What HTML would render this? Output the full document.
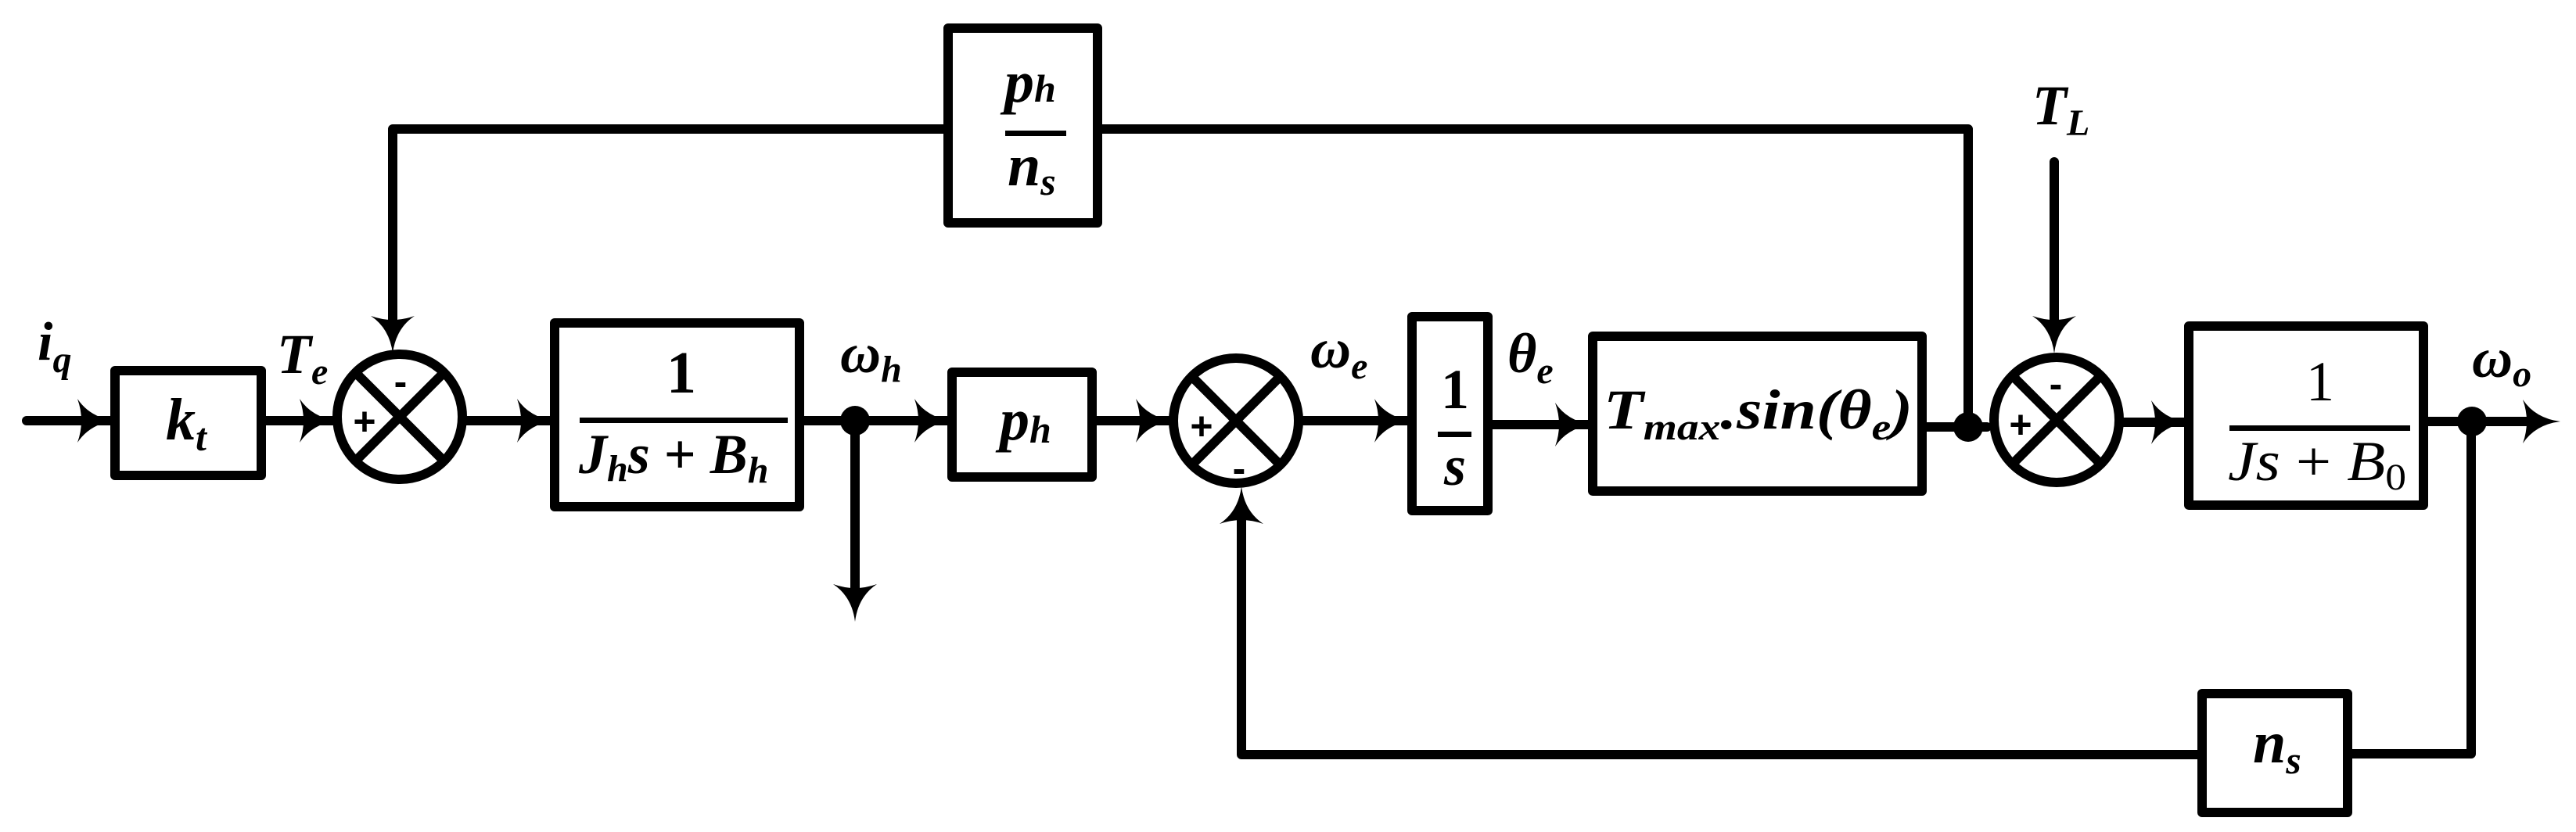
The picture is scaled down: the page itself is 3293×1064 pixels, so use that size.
<!DOCTYPE html>
<html><head><meta charset="utf-8"><style>
html,body{margin:0;padding:0;background:#fff;}
svg{display:block;}
</style></head><body>
<svg width="3293" height="1064" viewBox="0 0 3293 1064" xmlns="http://www.w3.org/2000/svg" font-family="Liberation Serif, serif">
<defs>
<path id="ar" d="M0,0 Q-32,-4 -48,-28 Q-38,0 -48,28 Q-32,4 0,0 Z" fill="#000"/>
</defs>
<g stroke="#000" stroke-width="12" fill="none" stroke-linecap="round" stroke-linejoin="round">
<line x1="34" y1="538" x2="147" y2="538"/>
<line x1="334" y1="538" x2="425" y2="538"/>
<line x1="595" y1="538" x2="709" y2="538"/>
<line x1="1022" y1="538" x2="1217" y2="538"/>
<line x1="1093" y1="538" x2="1093" y2="760"/>
<line x1="1396" y1="538" x2="1494" y2="538"/>
<line x1="1666" y1="538" x2="1805" y2="538"/>
<line x1="1902" y1="543" x2="2036" y2="543"/>
<line x1="2457" y1="546" x2="2540" y2="546"/>
<line x1="2714" y1="540" x2="2798" y2="540"/>
<line x1="3098" y1="539" x2="3240" y2="539"/>
<polyline points="502,420 502,165 1212,165"/>
<polyline points="1403,165 2516,165 2516,546"/>
<line x1="2626" y1="207" x2="2626" y2="420"/>
<polyline points="3159,539 3159,964 3001,964"/>
<polyline points="2815,965 1587,965 1587,660"/>
<rect x="147" y="474" width="187" height="134"/>
<rect x="709" y="413" width="313" height="235"/>
<rect x="1212" y="36" width="191" height="249"/>
<rect x="1217" y="476" width="179" height="134"/>
<rect x="1805" y="405" width="97" height="248"/>
<rect x="2036" y="430" width="421" height="198"/>
<rect x="2798" y="417" width="300" height="229"/>
<rect x="2815" y="887" width="186" height="152"/>
<circle cx="511" cy="533" r="80"/>
<line x1="455" y1="477" x2="567" y2="589"/><line x1="567" y1="477" x2="455" y2="589"/>
<circle cx="1580" cy="538" r="80"/>
<line x1="1524" y1="482" x2="1636" y2="594"/><line x1="1636" y1="482" x2="1524" y2="594"/>
<circle cx="2629" cy="537" r="80"/>
<line x1="2573" y1="481" x2="2685" y2="593"/><line x1="2685" y1="481" x2="2573" y2="593"/>
</g>
<g fill="#000">
<rect x="741" y="534" width="266" height="7"/>
<rect x="1285" y="167" width="78" height="7"/>
<rect x="1838" y="552" width="43" height="7"/>
<rect x="2850" y="544" width="231" height="7"/>
<circle cx="1093" cy="538" r="19"/>
<circle cx="2516" cy="546" r="19"/>
<circle cx="3160" cy="539" r="19"/>
<circle cx="1902" cy="543" r="6"/>
</g>
<use href="#ar" transform="translate(147,538)"/>
<use href="#ar" transform="translate(431,538)"/>
<use href="#ar" transform="translate(709,538)"/>
<use href="#ar" transform="translate(1217,538)"/>
<use href="#ar" transform="translate(1500,538)"/>
<use href="#ar" transform="translate(1805,538)"/>
<use href="#ar" transform="translate(2036,543)"/>
<use href="#ar" transform="translate(2798,540)"/>
<use href="#ar" transform="translate(3273,539)"/>
<use href="#ar" transform="translate(502,452) rotate(90)"/>
<use href="#ar" transform="translate(2626,452) rotate(90)"/>
<use href="#ar" transform="translate(1093,795) rotate(90)"/>
<use href="#ar" transform="translate(1587,622) rotate(-90)"/>
<g font-family="Liberation Sans, sans-serif" font-weight="bold" font-size="50" text-anchor="middle" fill="#000">
<text x="466" y="556">+</text>
<text x="512" y="505">-</text>
<text x="1536" y="562">+</text>
<text x="1584" y="616">-</text>
<text x="2583" y="560">+</text>
<text x="2628" y="508">-</text>
</g>
<g font-family="Liberation Serif, serif" font-weight="bold" font-style="italic" fill="#000">
<text x="48" y="460" font-size="70">i<tspan font-size="48" dy="16">q</tspan></text>
<text x="354" y="477" font-size="72">T<tspan font-size="48" dy="14">e</tspan></text>
<text x="1074" y="476" font-size="72">ω<tspan font-size="48" dy="12">h</tspan></text>
<text x="1675" y="470" font-size="72">ω<tspan font-size="48" dy="14">e</tspan></text>
<text x="1927" y="476" font-size="72">θ<tspan font-size="48" dy="14">e</tspan></text>
<text x="2598" y="159" font-size="72">T<tspan font-size="48" dy="14">L</tspan></text>
<text x="3160" y="482" font-size="72">ω<tspan font-size="48" dy="12">o</tspan></text>
<text x="238" y="562" font-size="76" text-anchor="middle">k<tspan font-size="50" dy="14">t</tspan></text>
<text x="871" y="502" font-size="76" text-anchor="middle" font-style="normal">1</text>
<text x="740" y="605" font-size="72">J<tspan font-size="48" dy="10">h</tspan><tspan dy="-10">s</tspan><tspan font-style="normal"> + </tspan>B<tspan font-size="48" dy="12">h</tspan></text>
<text x="1284" y="130" font-size="76">p<tspan font-size="50">h</tspan></text>
<text x="1288" y="237" font-size="76">n<tspan font-size="50" dy="12">s</tspan></text>
<text x="1278" y="562" font-size="76">p<tspan font-size="50" dy="4">h</tspan></text>
<text x="1860" y="522" font-size="72" text-anchor="middle" font-style="normal">1</text>
<text x="1860" y="620" font-size="72" text-anchor="middle">s</text>
<text x="2050" y="548" font-size="72" textLength="395" lengthAdjust="spacingAndGlyphs">T<tspan font-size="48" dy="14">max</tspan><tspan dy="-14">.sin(θ</tspan><tspan font-size="48" dy="14">e</tspan><tspan dy="-14">)</tspan></text>
<text x="2966" y="512" font-size="72" text-anchor="middle" font-style="normal" font-weight="normal">1</text>
<text x="2848" y="614" font-size="72" font-weight="normal" textLength="228" lengthAdjust="spacingAndGlyphs">Js<tspan font-style="normal"> + </tspan>B<tspan font-style="normal" font-size="48" dy="12">0</tspan></text>
<text x="2880" y="975" font-size="76">n<tspan font-size="50" dy="14">s</tspan></text>
</g>
</svg>
</body></html>
